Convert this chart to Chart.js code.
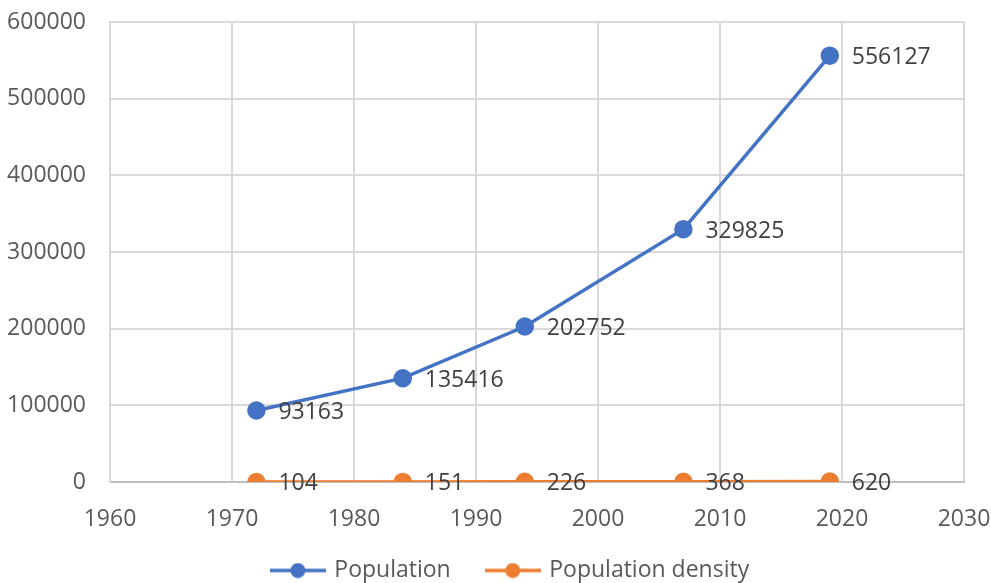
<!DOCTYPE html>
<html lang="en">
<head>
<meta charset="UTF-8">
<title>Population</title>
<script src="https://cdn.jsdelivr.net/npm/chart.js"></script>
<style>
  html, body { margin: 0; padding: 0; background: #fff; }
  #wrap { width: 991px; height: 583px; }
</style>
</head>
<body>
<div id="wrap"><canvas id="chart" width="991" height="583"></canvas></div>
<script>
// data
const years = [1972, 1984, 1994, 2007, 2019];
const population = [93163, 135416, 202752, 329825, 556127];
const density = [104, 151, 226, 368, 620];
const seriesNames = ['Population', 'Population density'];
const xTicks = [1960, 1970, 1980, 1990, 2000, 2010, 2020, 2030];
const yTicks = [0, 100000, 200000, 300000, 400000, 500000, 600000];

const BLUE = '#4472C4';
const ORANGE = '#ED7D31';
const FONT = "'Open Sans', 'Noto Sans', sans-serif";

// little line-with-dot marker for the legend
function legendMarker(color) {
  const c = document.createElement('canvas');
  c.width = 56; c.height = 16;
  const g = c.getContext('2d');
  g.strokeStyle = color; g.lineWidth = 3.5;
  g.beginPath(); g.moveTo(0, 8); g.lineTo(56, 8); g.stroke();
  g.fillStyle = color;
  g.beginPath(); g.arc(28, 8, 7.5, 0, Math.PI * 2); g.fill();
  return c;
}

// value labels to the right of each point
const pointLabels = {
  id: 'pointLabels',
  afterDatasetsDraw(chart) {
    const ctx = chart.ctx;
    ctx.save();
    ctx.font = '23px ' + FONT;
    ctx.fillStyle = '#404040';
    ctx.textAlign = 'left';
    ctx.textBaseline = 'middle';
    chart.data.datasets.forEach((ds, i) => {
      chart.getDatasetMeta(i).data.forEach((pt, j) => {
        ctx.fillText(String(ds.data[j].y), pt.x + 22, pt.y + 2);
      });
    });
    ctx.restore();
  }
};

// nudge the legend a bit: up and to the right, like the original
const legendShift = {
  id: 'legendShift',
  afterLayout(chart) {
    const lg = chart.legend;
    if (!lg) return;
    lg.left += 26; lg.right += 26;
    lg.top -= 12; lg.bottom -= 12;
  }
};

const toPoints = vals => vals.map((v, i) => ({ x: years[i], y: v }));

new Chart(document.getElementById('chart'), {
  type: 'scatter',
  data: {
    datasets: [
      {
        label: seriesNames[0],
        data: toPoints(population),
        showLine: true,
        borderColor: BLUE,
        backgroundColor: BLUE,
        borderWidth: 3.5,
        pointRadius: 7.5,
        pointHoverRadius: 7.5,
        pointStyle: 'circle'
      },
      {
        label: seriesNames[1],
        data: toPoints(density),
        showLine: true,
        borderColor: ORANGE,
        backgroundColor: ORANGE,
        borderWidth: 3.5,
        pointRadius: 7.5,
        pointHoverRadius: 7.5,
        pointStyle: 'circle'
      }
    ]
  },
  options: {
    responsive: false,
    animation: false,
    layout: { padding: { left: 6, right: 27, top: 22, bottom: -21 } },
    scales: {
      x: {
        type: 'linear',
        min: xTicks[0],
        max: xTicks[xTicks.length - 1],
        afterBuildTicks: s => { s.ticks = xTicks.map(v => ({ value: v })); },
        afterFit: s => { s.height = 52; s.paddingLeft = 0; s.paddingRight = 0; },
        grid: { color: '#d9d9d9', lineWidth: 2, drawTicks: false },
        border: { color: '#bfbfbf', width: 2 },
        ticks: {
          color: '#595959',
          font: { family: FONT, size: 23 },
          padding: 24,
          callback: v => String(v)
        }
      },
      y: {
        min: yTicks[0],
        max: yTicks[yTicks.length - 1],
        afterBuildTicks: s => { s.ticks = yTicks.map(v => ({ value: v })); },
        afterFit: s => { s.width = 104; s.paddingTop = 0; s.paddingBottom = 0; },
        grid: { color: '#d9d9d9', lineWidth: 2, drawTicks: false },
        border: { color: '#d9d9d9', width: 2 },
        ticks: {
          color: '#595959',
          font: { family: FONT, size: 23 },
          padding: 24,
          callback: v => String(v)
        }
      }
    },
    plugins: {
      tooltip: { enabled: false },
      legend: {
        position: 'bottom',
        labels: {
          usePointStyle: true,
          pointStyleWidth: 50,
          boxHeight: 16,
          color: '#595959',
          font: { family: FONT, size: 23 },
          padding: 37,
          generateLabels: chart => chart.data.datasets.map((ds, i) => ({
            text: ds.label,
            pointStyle: legendMarker(ds.borderColor),
            fillStyle: ds.borderColor,
            strokeStyle: ds.borderColor,
            lineWidth: 0,
            fontColor: '#595959',
            datasetIndex: i,
            hidden: false
          }))
        }
      }
    }
  },
  plugins: [pointLabels, legendShift]
});
</script>
</body>
</html>
